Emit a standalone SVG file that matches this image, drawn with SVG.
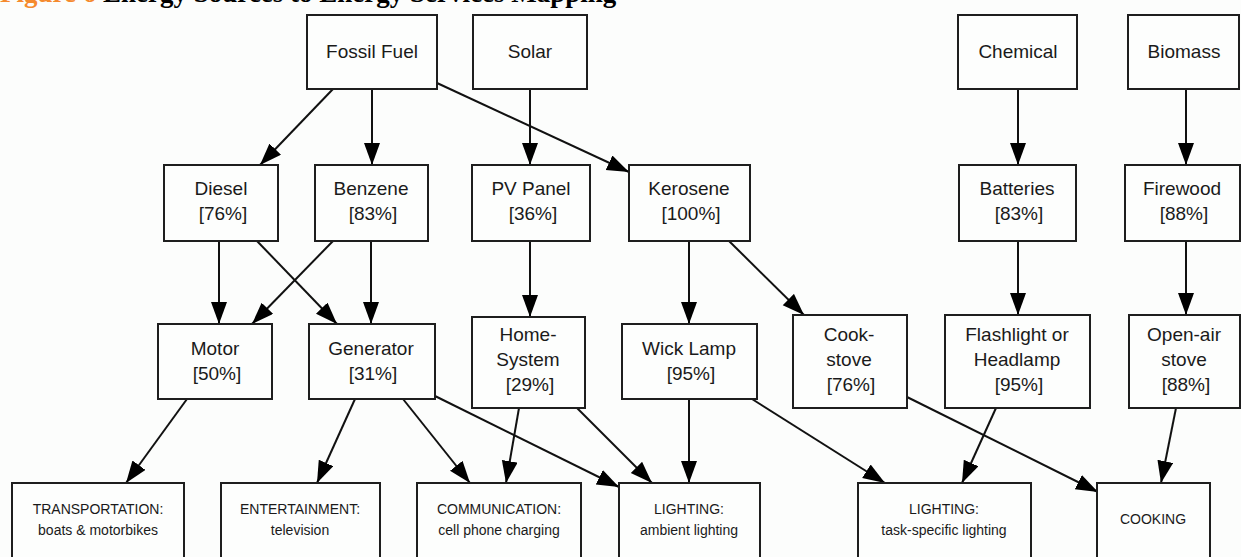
<svg xmlns="http://www.w3.org/2000/svg" width="1241" height="557" viewBox="0 0 1241 557">
<defs>
<marker id="ah" markerUnits="userSpaceOnUse" markerWidth="24" markerHeight="18" refX="22" refY="8" orient="auto" viewBox="0 0 24 18">
<path d="M0,0 L22,8 L0,16 z" fill="#000"/>
</marker>
<style>
.bg{fill:#fcfdfc}
.box{fill:#fdfefd;stroke:#1e1e1e;stroke-width:2}
.t{font-family:"Liberation Sans",Arial,sans-serif;font-size:19px;fill:#1a1a1a;text-anchor:middle}
.s{font-family:"Liberation Sans",Arial,sans-serif;font-size:14px;fill:#1a1a1a;text-anchor:middle}
.e{stroke:#111;stroke-width:2;fill:none;marker-end:url(#ah)}
.title{font-family:"Liberation Serif","Times New Roman",serif;font-size:27px;font-weight:bold}
</style>
</defs>
<rect class="bg" x="0" y="0" width="1241" height="557"/>
<text class="title" x="0" y="2"><tspan fill="#f58a2e">Figure 6</tspan><tspan fill="#000"> Energy Sources to Energy Services Mapping</tspan></text>

<g id="connectors">
<line class="e" x1="333" y1="89" x2="260" y2="165"/>
<line class="e" x1="372" y1="89" x2="372" y2="165"/>
<line class="e" x1="437" y1="83" x2="629" y2="172"/>
<line class="e" x1="530" y1="89" x2="530" y2="165"/>
<line class="e" x1="1018" y1="89" x2="1018" y2="165"/>
<line class="e" x1="1186" y1="89" x2="1186" y2="165"/>
<line class="e" x1="219" y1="241" x2="219" y2="324"/>
<line class="e" x1="257" y1="241" x2="337" y2="324"/>
<line class="e" x1="333" y1="241" x2="252" y2="324"/>
<line class="e" x1="371" y1="241" x2="371" y2="324"/>
<line class="e" x1="530" y1="241" x2="530" y2="317"/>
<line class="e" x1="689" y1="241" x2="689" y2="324"/>
<line class="e" x1="729" y1="241" x2="804" y2="315"/>
<line class="e" x1="1018" y1="241" x2="1018" y2="315"/>
<line class="e" x1="1186" y1="241" x2="1186" y2="315"/>
<line class="e" x1="187" y1="399" x2="126" y2="483"/>
<line class="e" x1="355" y1="399" x2="317" y2="483"/>
<line class="e" x1="403" y1="399" x2="470" y2="483"/>
<line class="e" x1="435" y1="396" x2="619" y2="487"/>
<line class="e" x1="519" y1="408" x2="506" y2="483"/>
<line class="e" x1="577" y1="408" x2="652" y2="483"/>
<line class="e" x1="689" y1="399" x2="689" y2="483"/>
<line class="e" x1="752" y1="399" x2="885" y2="483"/>
<line class="e" x1="907" y1="397" x2="1098" y2="492"/>
<line class="e" x1="996" y1="408" x2="962" y2="483"/>
<line class="e" x1="1176" y1="408" x2="1161" y2="483"/>
</g>

<g id="fossil-fuel"><rect class="box" x="307" y="15" width="130" height="74"/><text class="t" x="372" y="58">Fossil Fuel</text></g>
<g id="solar"><rect class="box" x="473" y="15" width="114" height="74"/><text class="t" x="530" y="58">Solar</text></g>
<g id="chemical"><rect class="box" x="958" y="15" width="119" height="74"/><text class="t" x="1018" y="58">Chemical</text></g>
<g id="biomass"><rect class="box" x="1128" y="15" width="111" height="74"/><text class="t" x="1184" y="58">Biomass</text></g>

<g id="diesel"><rect class="box" x="164" y="165" width="114" height="76"/><text class="t" x="221" y="195">Diesel</text><text class="t" x="223" y="220">[76%]</text></g>
<g id="benzene"><rect class="box" x="315" y="165" width="113" height="76"/><text class="t" x="371" y="195">Benzene</text><text class="t" x="373" y="220">[83%]</text></g>
<g id="pv-panel"><rect class="box" x="472" y="165" width="118" height="76"/><text class="t" x="531" y="195">PV Panel</text><text class="t" x="533" y="220">[36%]</text></g>
<g id="kerosene"><rect class="box" x="629" y="165" width="121" height="76"/><text class="t" x="689" y="195">Kerosene</text><text class="t" x="691" y="220">[100%]</text></g>
<g id="batteries"><rect class="box" x="959" y="165" width="117" height="76"/><text class="t" x="1017" y="195">Batteries</text><text class="t" x="1019" y="220">[83%]</text></g>
<g id="firewood"><rect class="box" x="1125" y="165" width="115" height="76"/><text class="t" x="1182" y="195">Firewood</text><text class="t" x="1184" y="220">[88%]</text></g>

<g id="motor"><rect class="box" x="158" y="324" width="114" height="75"/><text class="t" x="215" y="355">Motor</text><text class="t" x="217" y="380">[50%]</text></g>
<g id="generator"><rect class="box" x="309" y="324" width="126" height="75"/><text class="t" x="371" y="355">Generator</text><text class="t" x="373" y="380">[31%]</text></g>
<g id="home-system"><rect class="box" x="472" y="317" width="113" height="91"/><text class="t" x="528" y="341">Home-</text><text class="t" x="528" y="366">System</text><text class="t" x="530" y="391">[29%]</text></g>
<g id="wick-lamp"><rect class="box" x="622" y="324" width="135" height="75"/><text class="t" x="689" y="355">Wick Lamp</text><text class="t" x="691" y="380">[95%]</text></g>
<g id="cook-stove"><rect class="box" x="793" y="315" width="114" height="93"/><text class="t" x="849" y="341">Cook-</text><text class="t" x="849" y="366">stove</text><text class="t" x="851" y="391">[76%]</text></g>
<g id="flashlight"><rect class="box" x="945" y="315" width="145" height="93"/><text class="t" x="1017" y="341">Flashlight or</text><text class="t" x="1017" y="366">Headlamp</text><text class="t" x="1019" y="391">[95%]</text></g>
<g id="open-air-stove"><rect class="box" x="1129" y="315" width="111" height="93"/><text class="t" x="1184" y="341">Open-air</text><text class="t" x="1184" y="366">stove</text><text class="t" x="1186" y="391">[88%]</text></g>

<g id="transportation"><rect class="box" x="12" y="483" width="172" height="90"/><text class="s" x="98" y="514">TRANSPORTATION:</text><text class="s" x="98" y="535">boats &amp; motorbikes</text></g>
<g id="entertainment"><rect class="box" x="221" y="483" width="159" height="90"/><text class="s" x="300" y="514">ENTERTAINMENT:</text><text class="s" x="300" y="535">television</text></g>
<g id="communication"><rect class="box" x="417" y="483" width="164" height="90"/><text class="s" x="499" y="514">COMMUNICATION:</text><text class="s" x="499" y="535">cell phone charging</text></g>
<g id="lighting-ambient"><rect class="box" x="619" y="483" width="141" height="90"/><text class="s" x="689" y="514">LIGHTING:</text><text class="s" x="689" y="535">ambient lighting</text></g>
<g id="lighting-task"><rect class="box" x="858" y="483" width="173" height="90"/><text class="s" x="944" y="514">LIGHTING:</text><text class="s" x="944" y="535">task-specific lighting</text></g>
<g id="cooking"><rect class="box" x="1097" y="483" width="113" height="90"/><text class="s" x="1153" y="524">COOKING</text></g>
</svg>
